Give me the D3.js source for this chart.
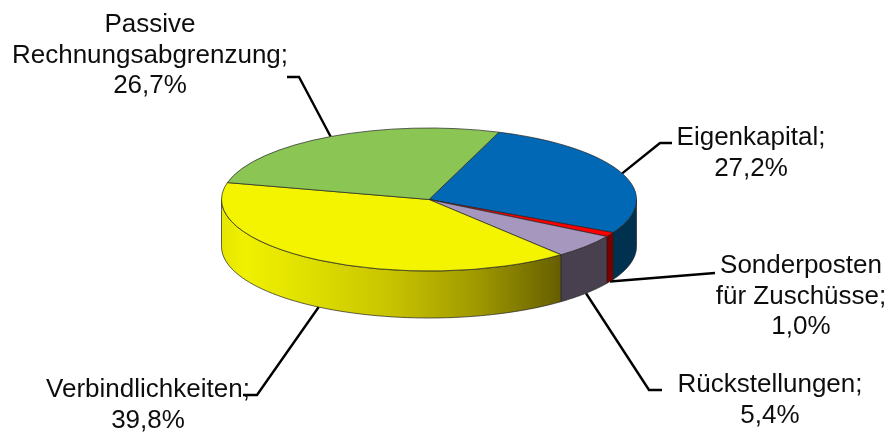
<!DOCTYPE html>
<html>
<head>
<meta charset="utf-8">
<script src="https://d3js.org/d3.v7.min.js"></script>
<style>
  html, body { margin: 0; padding: 0; background: #fff; }
  svg { display: block; }
  text { font-family: "Liberation Sans", Arial, sans-serif; font-size: 26px; fill: #111; text-anchor: middle; }
</style>
</head>
<body>
<script>
// data, clockwise from the top slice
const categories = [
  ["Eigenkapital"],
  ["Sonderposten", "für Zuschüsse"],
  ["Rückstellungen"],
  ["Verbindlichkeiten"],
  ["Passive", "Rechnungsabgrenzung"]
];
const shares = [27.2, 1.0, 5.4, 39.8, 26.7];

// style and layout, same order as the data
const topColors = ["#0468b4", "#ff0000", "#a697be", "#f4f400", "#8bc553"];
const sideColors = ["#00304f", "#7a0000", "#4a4150", "url(#yellowSide)", "#5f8a39"];
const labelX = [751, 801, 770, 148, 150];
const labelY = [145, 273, 392, 397, 32];
const elbowX = [660, 715, 649, 257, 299];
const elbowY = [143, 273, 390, 395, 77];
const tailX = [672, 715, 662, 243, 287];

const width = 893, height = 433;
const cx = 429, cy = 199.5, rx = 207.5, ry = 71.5, depth = 47;
const firstAngle = 19.7 * Math.PI / 180;
const lineHeight = 30.5;

const svg = d3.select("body").append("svg")
  .attr("width", width)
  .attr("height", height);

const defs = svg.append("defs");
const grad = defs.append("linearGradient")
  .attr("id", "yellowSide")
  .attr("gradientUnits", "userSpaceOnUse")
  .attr("x1", cx - rx).attr("x2", 560).attr("y1", 0).attr("y2", 0);
grad.selectAll("stop")
  .data([[0, "#e6e600"], [0.07, "#f0f000"], [0.25, "#e0e000"], [0.5, "#c8c300"], [0.75, "#a09a00"], [1, "#665f00"]])
  .join("stop")
  .attr("offset", d => d[0])
  .attr("stop-color", d => d[1]);

// slight softening, the reference is an upscaled picture
defs.append("filter").attr("id", "soft")
  .append("feGaussianBlur").attr("stdDeviation", 0.4);

const root = svg.append("g").attr("filter", "url(#soft)");

const pie = d3.pie()
  .sort(null)
  .startAngle(firstAngle)
  .endAngle(firstAngle + 2 * Math.PI);
const slices = pie(shares);

// angle is measured clockwise from the top, as in d3.arc
const px = a => cx + rx * Math.sin(a);
const py = a => cy - ry * Math.cos(a);

// leader lines go under the pie
const line = d3.line();
const anchor = s => {
  const a = ((s.startAngle + s.endAngle) / 2) % (2 * Math.PI);
  const front = a > Math.PI / 2 && a < 3 * Math.PI / 2;
  return [px(a), py(a) + (front ? depth : 0)];
};
root.append("g").selectAll("path")
  .data(slices)
  .join("path")
  .attr("d", (s, i) => line([anchor(s), [elbowX[i], elbowY[i]], [tailX[i], elbowY[i]]]))
  .attr("fill", "none")
  .attr("stroke", "#000")
  .attr("stroke-width", 2.4);

// side wall: the part of every slice that lies in the front half
const sidePath = s => {
  const a0 = Math.max(s.startAngle, Math.PI / 2);
  const a1 = Math.min(s.endAngle, 3 * Math.PI / 2);
  if (a1 <= a0) return null;
  const steps = d3.range(0, 61).map(k => a0 + (a1 - a0) * k / 60);
  const upper = steps.map(a => [px(a), py(a)]);
  const lower = steps.slice().reverse().map(a => [px(a), py(a) + depth]);
  return line(upper.concat(lower)) + "Z";
};
root.append("g").selectAll("path")
  .data(slices)
  .join("path")
  .attr("d", sidePath)
  .attr("fill", (s, i) => sideColors[i])
  .attr("stroke", "#222")
  .attr("stroke-width", 0.7);

// top face: a circle arc squashed into the ellipse
const arc = d3.arc().innerRadius(0).outerRadius(rx);
root.append("g")
  .attr("transform", `translate(${cx},${cy}) scale(1,${ry / rx})`)
  .selectAll("path")
  .data(slices)
  .join("path")
  .attr("d", arc)
  .attr("fill", (s, i) => topColors[i])
  .attr("stroke", "#222")
  .attr("stroke-width", 0.7)
  .attr("vector-effect", "non-scaling-stroke");

// labels: name lines, semicolon after the last one, then the share with decimal comma
const labelLines = categories.map((c, i) => [
  ...c.slice(0, -1),
  c[c.length - 1] + ";",
  shares[i].toFixed(1).replace(".", ",") + "%"
]);
root.append("g").selectAll("text")
  .data(labelLines)
  .join("text")
  .attr("x", (d, i) => labelX[i])
  .attr("y", (d, i) => labelY[i])
  .selectAll("tspan")
  .data((d, i) => d.map(t => ({ t, x: labelX[i] })))
  .join("tspan")
  .attr("x", d => d.x)
  .attr("dy", (d, k) => k === 0 ? 0 : lineHeight)
  .text(d => d.t);
</script>
</body>
</html>
